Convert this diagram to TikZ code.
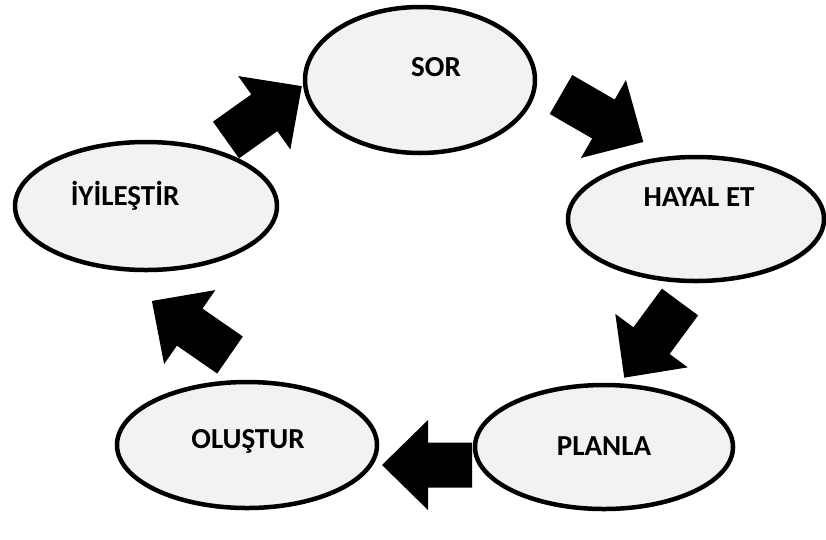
\documentclass[tikz,border=0pt]{standalone}
\usepackage{fontspec}
\setmainfont{Carlito}
\usetikzlibrary{shapes.geometric}
\definecolor{stagefill}{HTML}{F2F2F2}
\begin{document}
\begin{tikzpicture}[x=1pt,y=-1pt,
  stage/.style={draw=black, line width=4.5pt, fill=stagefill, ellipse, inner sep=0pt},
  lbl/.style={font=\fontsize{29}{34}\selectfont\bfseries, inner sep=0pt, anchor=center},
  pics/blockarrow/.style={code={
    \fill[black] (0,-22.5) -- (#1-46,-22.5) -- (#1-46,-45) -- (#1,0) -- (#1-46,45) -- (#1-46,22.5) -- (0,22.5) -- cycle;}}
]
\useasboundingbox (0,0) rectangle (826,539);
% arrow tails
\coordinate (t1) at (226,140);
\coordinate (t2) at (561,94.5);
\coordinate (t3) at (680,302);
\coordinate (t4) at (472,465);
\coordinate (t5) at (230,355);
\pic[rotate=35.4] at (t1) {blockarrow=93};
\pic[rotate=-30] at (t2) {blockarrow=95};
\pic[rotate=-126.4] at (t3) {blockarrow=94};
\pic[rotate=180] at (t4) {blockarrow=90};
\pic[rotate=145.3] at (t5) {blockarrow=95};
% ellipses
\node[stage, minimum width=230pt, minimum height=146pt] (e1) at (420,80) {};
\node[stage, minimum width=256pt, minimum height=124pt] (e2) at (696,219) {};
\node[stage, minimum width=262pt, minimum height=128pt] (e3) at (146,206) {};
\node[stage, minimum width=260pt, minimum height=126pt] (e4) at (247,445) {};
\node[stage, minimum width=258pt, minimum height=124pt] (e5) at (604,447) {};
% labels
\node[lbl] (sor) at (436,67) {SOR};
\node[lbl] (hayal) at (699,197) {HAYAL ET};
\node[lbl] (iyi) at (125,196) {İYİLEŞTİR};
\node[lbl] (olus) at (248,441) {OLUŞTUR};
\node[lbl] (plan) at (604,446) {PLANLA};
\end{tikzpicture}
\end{document}
